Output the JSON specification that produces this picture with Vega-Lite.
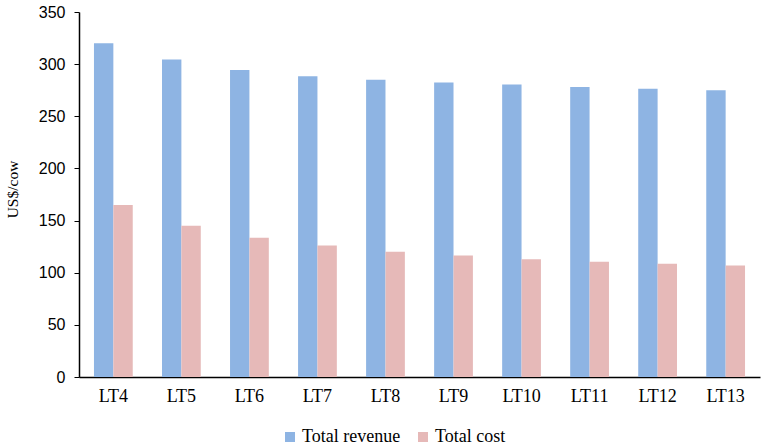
{
  "$schema": "https://vega.github.io/schema/vega-lite/v6.json",
  "width": 681,
  "height": 365,
  "autosize": "none",
  "padding": {"left": 79, "top": 12, "right": 5, "bottom": 71},
  "background": "white",
  "data": {
    "values": [
      {"group": "LT4", "series": "Total revenue", "value": 320},
      {"group": "LT4", "series": "Total cost", "value": 165},
      {"group": "LT5", "series": "Total revenue", "value": 304.5},
      {"group": "LT5", "series": "Total cost", "value": 145},
      {"group": "LT6", "series": "Total revenue", "value": 294.5},
      {"group": "LT6", "series": "Total cost", "value": 133.5},
      {"group": "LT7", "series": "Total revenue", "value": 288.5},
      {"group": "LT7", "series": "Total cost", "value": 126},
      {"group": "LT8", "series": "Total revenue", "value": 285},
      {"group": "LT8", "series": "Total cost", "value": 120},
      {"group": "LT9", "series": "Total revenue", "value": 282.5},
      {"group": "LT9", "series": "Total cost", "value": 116.5},
      {"group": "LT10", "series": "Total revenue", "value": 280.5},
      {"group": "LT10", "series": "Total cost", "value": 113},
      {"group": "LT11", "series": "Total revenue", "value": 278},
      {"group": "LT11", "series": "Total cost", "value": 110.5},
      {"group": "LT12", "series": "Total revenue", "value": 276.5},
      {"group": "LT12", "series": "Total cost", "value": 108.5},
      {"group": "LT13", "series": "Total revenue", "value": 275},
      {"group": "LT13", "series": "Total cost", "value": 107}
    ]
  },
  "mark": {"type": "bar"},
  "encoding": {
    "x": {
      "field": "group",
      "type": "nominal",
      "sort": null,
      "scale": {"paddingInner": 0.43, "paddingOuter": 0.22},
      "axis": {
        "title": null,
        "labelAngle": 0,
        "ticks": false,
        "domainColor": "black",
        "domainWidth": 1.5,
        "labelFont": "Liberation Serif",
        "labelFontSize": 18,
        "labelColor": "black",
        "labelPadding": 10
      }
    },
    "xOffset": {
      "field": "series",
      "type": "nominal",
      "sort": ["Total revenue", "Total cost"],
      "scale": {"paddingInner": 0}
    },
    "y": {
      "field": "value",
      "type": "quantitative",
      "scale": {"domain": [0, 350], "nice": false},
      "axis": {
        "title": "US$/cow",
        "values": [0, 50, 100, 150, 200, 250, 300, 350],
        "grid": false,
        "domainColor": "black",
        "domainWidth": 1.5,
        "tickColor": "black",
        "tickSize": 5,
        "labelFont": "Liberation Sans",
        "labelFontSize": 16,
        "labelColor": "black",
        "labelPadding": 9,
        "titleFont": "Liberation Serif",
        "titleFontSize": 15.5,
        "titleFontWeight": "normal",
        "titleColor": "black",
        "titlePadding": 18,
        "titleY": 177
      }
    },
    "color": {
      "field": "series",
      "type": "nominal",
      "sort": ["Total revenue", "Total cost"],
      "scale": {
        "domain": ["Total revenue", "Total cost"],
        "range": ["#8EB4E3", "#E6B9B8"]
      },
      "legend": {
        "title": null,
        "orient": "none",
        "direction": "horizontal",
        "legendX": 202,
        "legendY": 416,
        "symbolType": "square",
        "symbolSize": 100,
        "symbolStrokeWidth": 0,
        "labelFont": "Liberation Serif",
        "labelFontSize": 18,
        "labelColor": "black",
        "columnPadding": 13,
        "labelOffset": 3
      }
    }
  },
  "config": {
    "view": {"stroke": null}
  }
}
